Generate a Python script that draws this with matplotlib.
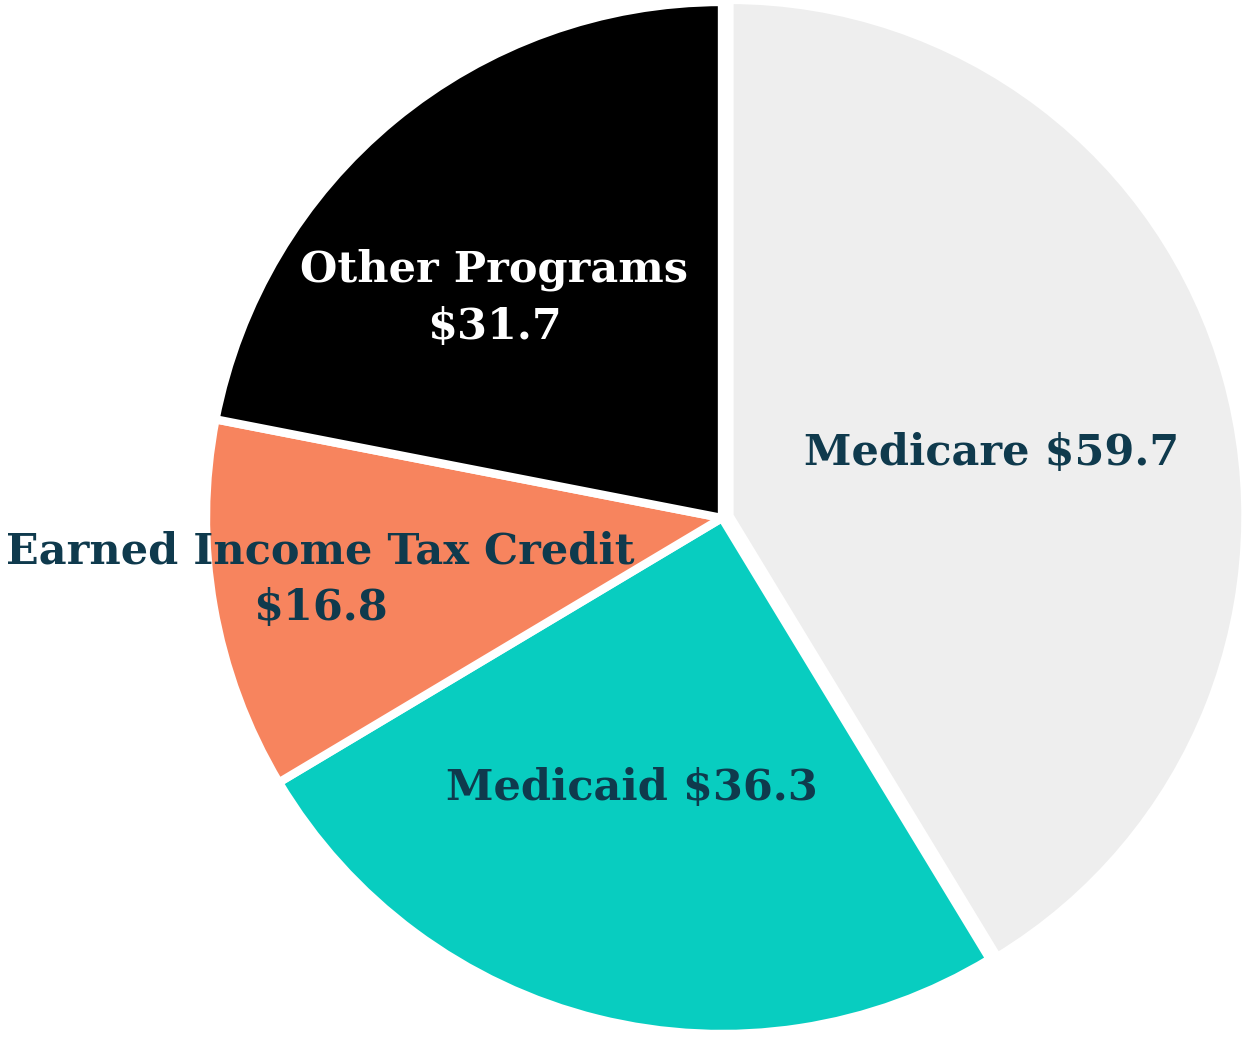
import matplotlib

matplotlib.use("Agg")
import matplotlib.pyplot as plt

categories = ["Medicare", "Medicaid", "Earned Income Tax Credit", "Other Programs"]
values = [59.7, 36.3, 16.8, 31.7]
colors = ["#eeeeee", "#08cdc0", "#f7845e", "#000000"]
label_lines = [
    "Medicare $59.7",
    "Medicaid $36.3",
    "Earned Income Tax Credit\n$16.8",
    "Other Programs\n$31.7",
]

TEXT_DARK = "#0f3a4d"
SCALE = 516.0  # pixels per data unit
CX, CY = 722.0, 518.0  # pie centre in pixels

# label anchor positions in pixel coordinates of the output image
label_px = [(992, 453), (632, 788), (320, 580), (494, 298)]
label_colors = [TEXT_DARK, TEXT_DARK, TEXT_DARK, "white"]

fig = plt.figure(figsize=(12.44, 10.40), dpi=100)
ax = fig.add_axes([0, 0, 1, 1])
ax.pie(
    values,
    colors=colors,
    startangle=90,
    counterclock=False,
    explode=[0.015, 0, 0, 0],
    radius=1.0,
    wedgeprops={"edgecolor": "white", "linewidth": 6},
)
ax.set_xlim(-CX / SCALE, (1244 - CX) / SCALE)
ax.set_ylim(-(1040 - CY) / SCALE, CY / SCALE)
ax.set_aspect("equal")
ax.axis("off")

for text, (px, py), col in zip(label_lines, label_px, label_colors):
    ax.text(
        (px - CX) / SCALE,
        (CY - py) / SCALE,
        text,
        ha="center",
        va="center",
        color=col,
        fontsize=31,
        fontweight="bold",
        family="DejaVu Serif",
        linespacing=1.45,
    )

fig.savefig("out.png", dpi=100, facecolor="white")
